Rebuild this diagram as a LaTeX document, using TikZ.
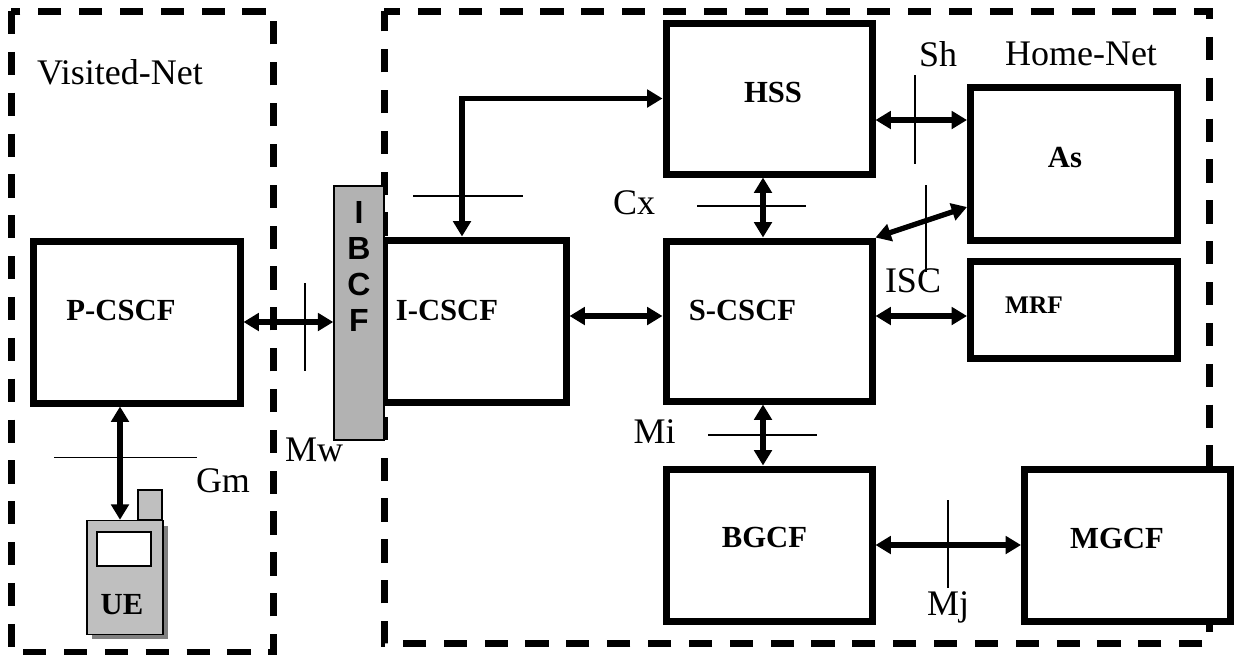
\documentclass[tikz,border=0pt]{standalone}
\usepackage{fontspec}
\setmainfont{Liberation Serif}
\setsansfont{Liberation Sans}
\usepackage{xcolor}
\usetikzlibrary{arrows.meta}
\definecolor{barfill}{HTML}{B2B2B2}
\definecolor{phonefill}{HTML}{BFBFBF}
\definecolor{phoneshadow}{HTML}{808080}

\begin{document}
\begin{tikzpicture}[
  x=0.75pt,
  y=-0.75pt,
  netborder/.style={line width=5.25pt, dash pattern=on 17.4pt off 13.24pt},
  unit/.style={draw, fill=white, line width=5.25pt, inner sep=0pt},
  link/.style={{Triangle[length=11.5pt,width=13pt]}-{Triangle[length=11.5pt,width=13pt]}, line width=4pt},
  tick/.style={line width=1.1pt},
  thin edge/.style={draw, line width=1.1pt, inner sep=0pt},
  plain/.style={font=\fontsize{27}{29}\selectfont},
  unitname/.style={font=\fontsize{23}{25}\selectfont\bfseries}
]
  \useasboundingbox (0,0) rectangle (1234,654);
  \fill[white] (0,0) rectangle (1234,654);

  \draw[netborder, dash phase=5.25pt] (384,11) -- (1209,11) -- (1209,643) -- (384,643) -- cycle;
  \draw[netborder] (11,11) -- (11,652.5) -- (273,652.5) -- (273,11) -- cycle;

  \node[unit, minimum width=154.5pt, minimum height=113.25pt] (hss) at (769,98.5) {};
  \node[unit, minimum width=155.25pt, minimum height=114.75pt] (as) at (1074,163.5) {};
  \node[unit, minimum width=155.25pt, minimum height=72.75pt] (mrf) at (1074,309.5) {};
  \node[unit, minimum width=154.5pt, minimum height=120pt] (scscf) at (769,321) {};
  \node[unit, minimum width=136.5pt, minimum height=121.5pt] (icscf) at (475,321) {};
  \node[unit, minimum width=155.25pt, minimum height=121.5pt] (pcscf) at (136.5,322) {};
  \node[unit, minimum width=154.5pt, minimum height=114pt] (bgcf) at (769,545) {};
  \node[unit, minimum width=154.5pt, minimum height=114pt] (mgcf) at (1127.5,545) {};
  \node[thin edge, fill=barfill, minimum width=37.5pt, minimum height=190.5pt] (ibcf) at (359,313) {};

  \fill[phoneshadow] (92,526) rectangle (168,639);
  \node[thin edge, fill=phonefill, minimum width=18pt, minimum height=22.5pt] (antenna) at (150,505) {};
  \node[thin edge, fill=phonefill, minimum width=57pt, minimum height=85.5pt] (ue) at (125,577.5) {};
  \node[thin edge, fill=white, minimum width=40.5pt, minimum height=25.5pt] (uescreen) at (124,549) {};

  \draw[link] (hss.east |- 0,120) -- (as.west |- 0,120);
  \draw[link] ([xshift=-4.5pt]hss.south) -- ([xshift=-4.5pt]scscf.north);
  \draw[link] (scscf.north east) -- (as.west |- 0,207);
  \draw[link] (scscf.east |- 0,316) -- (mrf.west |- 0,316);
  \draw[link] (icscf.east |- 0,316) -- (scscf.west |- 0,316);
  \draw[link] (pcscf.east |- 0,322) -- (ibcf.west |- 0,322);
  \draw[link] ([xshift=-4.5pt]scscf.south) -- ([xshift=-4.5pt]bgcf.north);
  \draw[link] (bgcf.east) -- (mgcf.west);
  \draw[link] (pcscf.south -| 120,0) -- (ue.north -| 120,0);
  \draw[link] (icscf.north -| 462,0) |- (hss.west);

  \draw[tick] (54,457.5) -- (197,457.5);
  \draw[tick] (305,283) -- (305,371);
  \draw[tick] (413,196) -- (523,196);
  \draw[tick] (915,75) -- (915,164);
  \draw[tick] (926,185) -- (926,272);
  \draw[tick] (697,206) -- (806,206);
  \draw[tick] (708,435) -- (817,435);
  \draw[tick] (948,500) -- (948,588);

  \node[plain] (visitedlabel) at (120,72) {Visited-Net};
  \node[plain] (homelabel) at (1081,54) {Home-Net};
  \node[plain] (shlabel) at (938,54) {Sh};
  \node[plain] (cxlabel) at (634,203) {Cx};
  \node[plain] (isclabel) at (913,281) {ISC};
  \node[plain] (milabel) at (654.5,432) {Mi};
  \node[plain] (mwlabel) at (314,450) {Mw};
  \node[plain] (gmlabel) at (223,481) {Gm};
  \node[plain] (mjlabel) at (948,607) {Mj};

  \node[unitname] (hsstext) at (773,92) {HSS};
  \node[unitname] (astext) at (1065,158) {As};
  \node[unitname, font=\fontsize{19}{21}\selectfont\bfseries] (mrftext) at (1034,305) {MRF};
  \node[unitname] (scscftext) at (742.5,310) {S-CSCF};
  \node[unitname] (icscftext) at (447,310) {I-CSCF};
  \node[unitname] (pcscftext) at (121,310) {P-CSCF};
  \node[unitname] (bgcftext) at (764.5,537) {BGCF};
  \node[unitname] (mgcftext) at (1117,538) {MGCF};
  \node[unitname] (uetext) at (122,605) {UE};
  \node[font=\fontsize{24}{27}\selectfont\sffamily\bfseries, align=center] (ibcftext) at (359,266) {I\\B\\C\\F};
\end{tikzpicture}
\end{document}
